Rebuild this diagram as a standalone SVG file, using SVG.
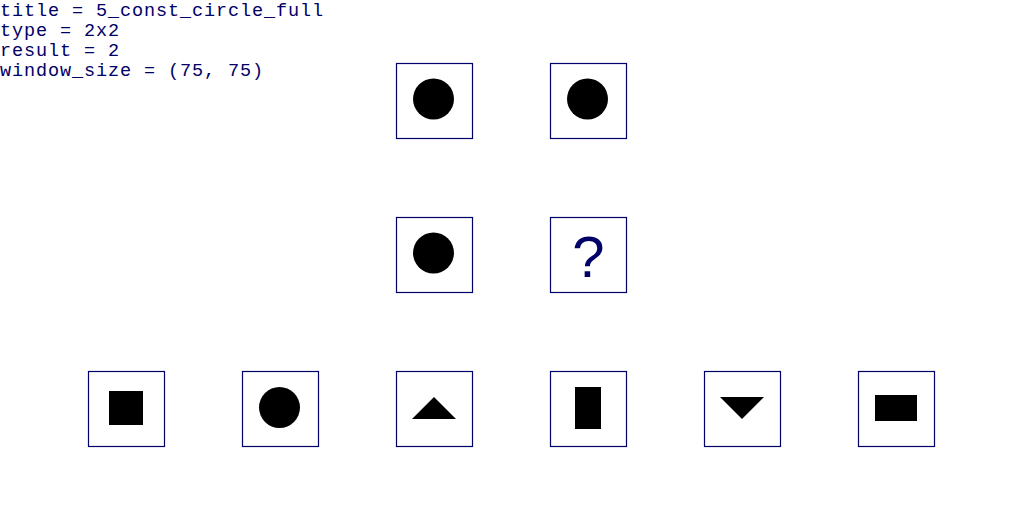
<svg xmlns="http://www.w3.org/2000/svg" width="1024" height="512" viewBox="0 0 1024 512">
<style>
.info{font-family:"Liberation Mono","Courier New",monospace;font-size:18.5px;letter-spacing:0.9px;fill:#000066}
.box{fill:#fff;stroke:#000066;stroke-width:1.2}
.shape{fill:#000}
.q{font-family:"Liberation Sans",Arial,sans-serif;font-size:58px;fill:#000066;text-anchor:middle}
</style>
<rect width="1024" height="512" fill="#fff"/>
<g id="info">
<text class="info" x="0" y="15.5">title = 5_const_circle_full</text>
<text class="info" x="0" y="35.5">type = 2x2</text>
<text class="info" x="0" y="55.5">result = 2</text>
<text class="info" x="0" y="75.5">window_size = (75, 75)</text>
</g>
<g id="cell-1-1"><rect class="box" x="396.5" y="63.5" width="76" height="75"/><circle class="shape" cx="433.5" cy="99" r="20.5"/></g>
<g id="cell-1-2"><rect class="box" x="550.5" y="63.5" width="76" height="75"/><circle class="shape" cx="587.5" cy="99" r="20.5"/></g>
<g id="cell-2-1"><rect class="box" x="396.5" y="217.5" width="76" height="75"/><circle class="shape" cx="433.5" cy="253" r="20.5"/></g>
<g id="cell-2-2"><rect class="box" x="550.5" y="217.5" width="76" height="75"/><text class="q" x="588.5" y="277">?</text></g>
<g id="option-1"><rect class="box" x="88.5" y="371.5" width="76" height="75"/><rect class="shape" x="109" y="391" width="34" height="34"/></g>
<g id="option-2"><rect class="box" x="242.5" y="371.5" width="76" height="75"/><circle class="shape" cx="279.5" cy="407.5" r="20.5"/></g>
<g id="option-3"><rect class="box" x="396.5" y="371.5" width="76" height="75"/><polygon class="shape" points="412,419 456,419 434,397"/></g>
<g id="option-4"><rect class="box" x="550.5" y="371.5" width="76" height="75"/><rect class="shape" x="575" y="387" width="26" height="42"/></g>
<g id="option-5"><rect class="box" x="704.5" y="371.5" width="76" height="75"/><polygon class="shape" points="720,397 764,397 742,419"/></g>
<g id="option-6"><rect class="box" x="858.5" y="371.5" width="76" height="75"/><rect class="shape" x="875" y="395" width="42" height="26"/></g>
<g id="connectors"/>
</svg>
